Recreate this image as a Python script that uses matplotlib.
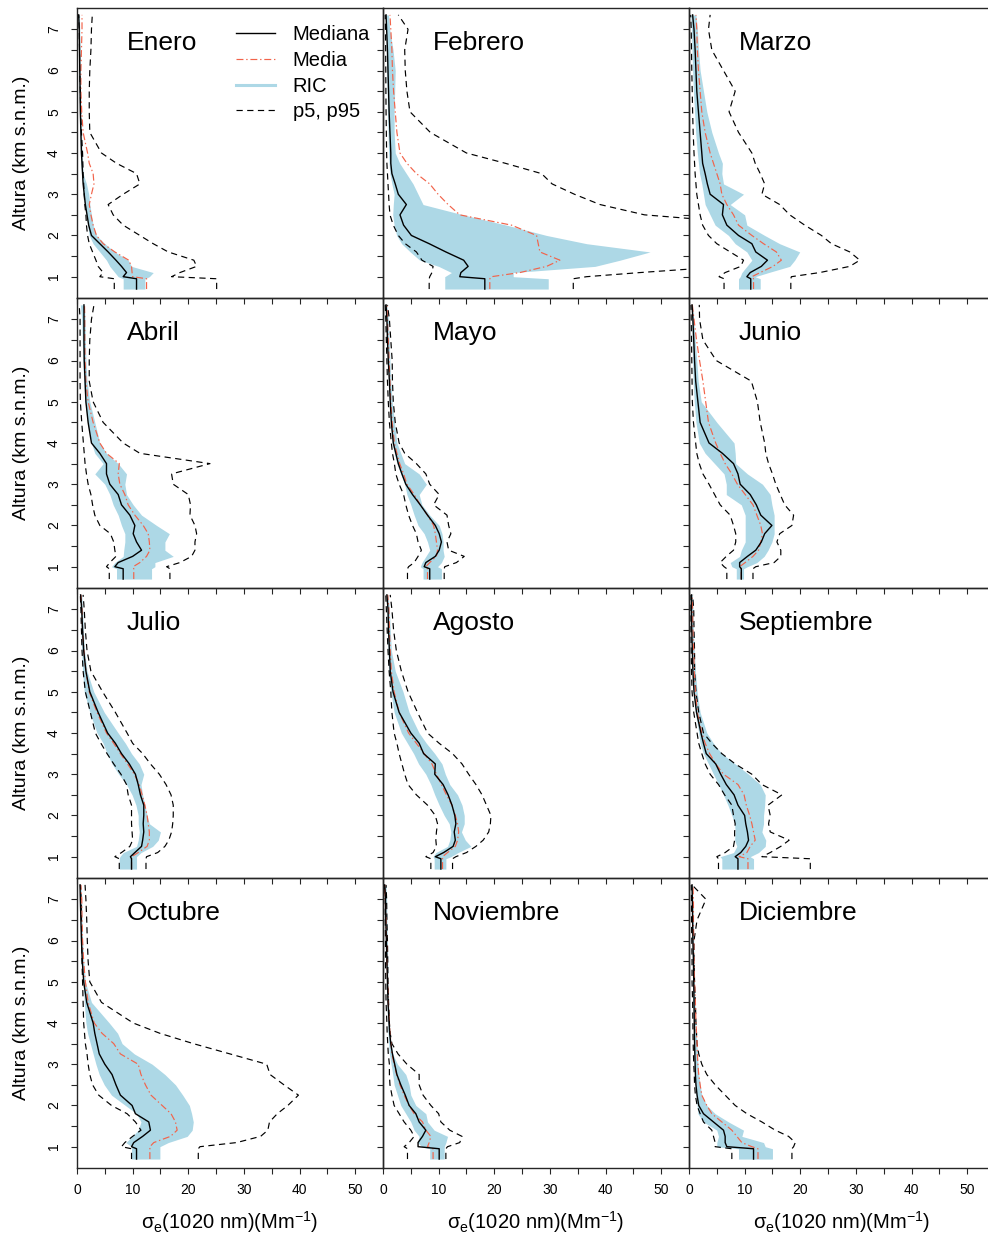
import numpy as np
import matplotlib
matplotlib.use('Agg')
import matplotlib.pyplot as plt
from matplotlib.lines import Line2D

plt.rcParams['font.family'] = ['Liberation Sans', 'DejaVu Sans']
plt.rcParams['mathtext.fontset'] = 'custom'
plt.rcParams['mathtext.rm'] = 'Liberation Sans'
plt.rcParams['mathtext.default'] = 'regular'
plt.rcParams['lines.scale_dashes'] = False

meses = ['Enero', 'Febrero', 'Marzo', 'Abril', 'Mayo', 'Junio',
         'Julio', 'Agosto', 'Septiembre', 'Octubre', 'Noviembre', 'Diciembre']

# altitud (km s.n.m.) de cada nivel del perfil
alt = [0.7, 0.95, 1.0, 1.1, 1.25, 1.4, 1.6, 1.8, 2.0, 2.25, 2.5, 2.75,
       3.0, 3.25, 3.5, 3.75, 4.0, 4.5, 5.0, 5.5, 6.0, 6.5, 7.0, 7.35]

mediana = {
    'Enero': [10.7, 10.7, 8.3, 8.9, 8.0, 7.0, 5.6, 4.1, 2.6, 2.1, 1.8, 1.5, 1.3, 1.1, 1.0, 0.9, 0.8, 0.7, 0.6, 0.55, 0.5, 0.45, 0.4, 0.3],
    'Febrero': [18.3, 18.3, 13.8, 14.0, 15.3, 14.5, 11.3, 8.3, 5.1, 3.7, 3.05, 4.2, 2.75, 2.2, 1.6, 1.4, 1.4, 1.25, 1.1, 1.0, 0.9, 0.8, 0.65, 0.55],
    'Marzo': [11.1, 11.1, 10.4, 11.0, 13.0, 14.1, 12.0, 11.3, 8.9, 6.8, 6.0, 6.2, 3.8, 3.3, 2.9, 2.45, 2.3, 2.0, 1.7, 1.4, 1.25, 1.1, 0.9, 0.65],
    'Abril': [8.3, 8.3, 6.8, 7.4, 10.0, 11.6, 10.7, 10.1, 10.4, 9.5, 8.0, 7.4, 5.9, 5.3, 5.3, 4.1, 2.6, 2.0, 1.6, 1.45, 1.3, 1.25, 1.25, 1.25],
    'Mayo': [8.4, 8.4, 7.4, 7.7, 9.4, 10.1, 10.5, 10.1, 9.4, 8.0, 6.7, 5.3, 4.1, 3.4, 2.75, 2.3, 1.85, 1.5, 1.3, 1.15, 0.95, 0.8, 0.7, 0.55],
    'Junio': [9.4, 9.4, 9.1, 9.1, 10.5, 12.0, 13.0, 13.6, 14.9, 12.9, 12.1, 11.0, 9.2, 8.8, 8.0, 6.0, 3.6, 2.0, 1.6, 1.2, 1.0, 0.85, 0.7, 0.55],
    'Julio': [9.8, 9.8, 9.6, 10.4, 11.6, 11.8, 12.0, 11.9, 12.0, 12.0, 11.4, 11.0, 10.5, 9.4, 8.0, 6.9, 5.5, 3.8, 2.3, 1.6, 1.2, 1.0, 0.85, 0.65],
    'Agosto': [10.4, 10.4, 9.4, 10.9, 12.6, 13.0, 12.8, 13.1, 12.9, 12.4, 11.7, 10.8, 9.3, 9.4, 7.3, 6.5, 5.0, 2.9, 1.8, 1.3, 1.15, 1.0, 0.9, 0.7],
    'Septiembre': [8.8, 8.8, 8.3, 9.3, 10.2, 10.7, 10.5, 10.2, 10.0, 8.8, 8.1, 6.7, 5.7, 4.8, 3.1, 2.6, 2.15, 1.35, 0.9, 0.7, 0.6, 0.5, 0.45, 0.45],
    'Octubre': [10.7, 10.7, 9.8, 10.2, 11.8, 13.2, 12.9, 10.5, 9.9, 7.8, 7.0, 6.3, 5.0, 4.0, 3.6, 3.2, 2.9, 1.75, 1.2, 0.95, 0.8, 0.7, 0.6, 0.55],
    'Noviembre': [10.1, 10.1, 6.3, 6.3, 7.1, 7.7, 6.5, 5.9, 4.7, 4.0, 3.2, 2.5, 2.1, 1.7, 1.4, 1.2, 1.1, 0.9, 0.8, 0.7, 0.6, 0.5, 0.45, 0.3],
    'Diciembre': [11.6, 11.6, 6.8, 6.5, 6.5, 6.2, 4.4, 2.6, 1.75, 1.45, 1.25, 1.15, 1.1, 1.05, 1.0, 0.97, 0.95, 0.9, 0.85, 0.8, 0.7, 0.65, 0.6, 0.55],
}

media = {
    'Enero': [12.5, 12.5, 10.0, 9.9, 9.8, 9.3, 6.8, 4.7, 3.5, 2.9, 2.5, 2.2, 2.6, 3.05, 2.9, 2.2, 1.9, 1.1, 0.85, 0.7, 0.7, 0.8, 0.9, 0.9],
    'Febrero': [19.2, 19.2, 19.5, 24.6, 29.4, 31.8, 28.2, 27.9, 27.6, 23.1, 13.8, 11.7, 9.9, 8.4, 6.0, 4.3, 3.05, 2.5, 2.2, 1.9, 1.7, 1.6, 1.4, 1.25],
    'Marzo': [11.6, 11.6, 11.3, 12.8, 15.1, 16.6, 15.7, 13.4, 11.3, 8.9, 8.0, 6.8, 5.9, 5.6, 5.0, 4.4, 3.8, 2.9, 2.3, 2.0, 1.7, 1.5, 1.4, 1.25],
    'Abril': [10.2, 10.2, 10.1, 11.3, 12.5, 13.1, 13.0, 12.8, 11.9, 10.4, 9.2, 8.6, 7.7, 7.4, 7.6, 5.3, 4.1, 2.9, 2.0, 1.6, 1.45, 1.4, 1.4, 1.35],
    'Mayo': [8.0, 8.0, 7.7, 8.4, 9.6, 9.8, 9.6, 9.4, 9.1, 8.0, 6.7, 5.6, 4.3, 3.7, 3.0, 2.5, 2.05, 1.65, 1.4, 1.25, 1.1, 0.95, 0.8, 0.7],
    'Junio': [9.4, 9.4, 9.1, 10.1, 11.5, 12.5, 12.9, 13.2, 12.9, 12.2, 11.5, 10.1, 8.7, 7.7, 6.5, 5.6, 4.8, 3.5, 3.0, 2.5, 1.9, 1.35, 0.9, 0.6],
    'Julio': [9.8, 9.8, 9.8, 11.0, 12.6, 13.0, 13.0, 12.8, 12.6, 12.2, 11.7, 11.2, 10.3, 9.1, 7.8, 6.6, 5.3, 3.6, 2.2, 1.6, 1.25, 1.0, 0.9, 0.7],
    'Agosto': [10.7, 10.7, 10.7, 11.6, 13.0, 13.4, 13.6, 13.4, 13.0, 12.4, 11.4, 10.5, 9.6, 8.8, 7.4, 6.0, 4.6, 2.9, 2.0, 1.5, 1.3, 1.15, 1.05, 0.85],
    'Septiembre': [10.6, 10.6, 9.0, 10.4, 11.0, 11.9, 11.6, 11.3, 10.9, 10.3, 9.9, 8.8, 6.2, 4.8, 3.7, 2.9, 2.3, 1.5, 1.15, 0.95, 0.85, 0.7, 0.65, 0.55],
    'Octubre': [13.1, 13.1, 13.1, 13.8, 16.8, 18.0, 17.7, 16.9, 15.3, 13.3, 12.3, 11.5, 11.0, 7.8, 6.6, 4.5, 3.1, 2.0, 1.5, 1.2, 1.0, 0.9, 0.85, 0.7],
    'Noviembre': [9.0, 9.0, 8.0, 8.3, 8.6, 7.7, 7.1, 5.6, 4.7, 3.8, 3.05, 2.45, 2.0, 1.6, 1.45, 1.25, 1.15, 0.95, 0.85, 0.7, 0.65, 0.55, 0.4, 0.35],
    'Diciembre': [12.4, 12.4, 11.3, 9.5, 8.6, 7.7, 5.9, 4.1, 3.2, 2.3, 2.0, 1.75, 1.6, 1.5, 1.45, 1.35, 1.25, 1.15, 1.0, 0.9, 0.85, 0.8, 0.8, 0.7],
}

q25 = {
    'Enero': [8.3, 8.3, 7.4, 6.8, 5.9, 5.3, 4.1, 2.9, 2.2, 1.9, 1.7, 1.4, 1.1, 1.0, 0.8, 0.7, 0.6, 0.5, 0.45, 0.4, 0.35, 0.3, 0.3, 0.25],
    'Febrero': [11.1, 11.1, 11.1, 12.3, 10.0, 6.6, 4.9, 3.35, 2.45, 2.0, 1.75, 1.85, 2.0, 1.6, 1.25, 1.1, 1.0, 0.9, 0.8, 0.75, 0.65, 0.6, 0.55, 0.45],
    'Marzo': [8.9, 8.9, 9.2, 9.5, 10.4, 11.3, 10.4, 8.3, 7.1, 4.7, 3.8, 2.9, 2.6, 2.3, 1.9, 1.7, 1.5, 1.2, 1.0, 0.8, 0.65, 0.55, 0.45, 0.3],
    'Abril': [7.1, 7.1, 6.2, 6.8, 8.3, 8.4, 8.6, 8.6, 8.0, 7.4, 6.5, 5.9, 5.0, 3.2, 4.7, 3.2, 2.6, 1.9, 1.45, 1.2, 1.05, 0.95, 0.85, 0.6],
    'Mayo': [7.2, 7.2, 6.7, 7.0, 7.7, 8.4, 8.0, 7.4, 6.3, 5.6, 5.0, 4.3, 3.9, 3.2, 2.5, 2.05, 1.65, 1.4, 1.15, 1.0, 0.85, 0.7, 0.6, 0.45],
    'Junio': [8.5, 8.5, 7.7, 7.4, 9.1, 9.4, 10.1, 10.1, 10.1, 10.1, 9.4, 6.7, 6.7, 6.3, 4.6, 2.9, 1.85, 1.25, 0.95, 0.75, 0.65, 0.55, 0.5, 0.4],
    'Julio': [7.6, 7.6, 7.7, 8.3, 10.7, 11.0, 11.2, 11.0, 11.0, 10.6, 9.9, 8.9, 7.5, 6.3, 5.4, 4.7, 3.6, 2.3, 1.3, 1.0, 0.85, 0.7, 0.65, 0.55],
    'Agosto': [9.2, 9.2, 9.0, 9.5, 11.6, 12.0, 12.2, 11.9, 11.0, 10.1, 9.3, 8.6, 7.7, 6.4, 5.5, 4.4, 3.3, 2.0, 1.4, 1.0, 0.9, 0.8, 0.7, 0.65],
    'Septiembre': [5.9, 5.9, 5.6, 8.0, 8.6, 8.2, 8.3, 8.2, 7.7, 7.0, 6.2, 5.3, 4.4, 3.5, 2.6, 2.0, 1.75, 1.15, 0.85, 0.65, 0.55, 0.5, 0.45, 0.4],
    'Octubre': [9.8, 9.8, 9.8, 8.8, 9.9, 11.0, 11.5, 10.7, 8.7, 6.2, 4.9, 4.0, 3.4, 2.9, 2.4, 1.9, 1.6, 1.3, 1.1, 0.9, 0.8, 0.7, 0.65, 0.6],
    'Noviembre': [8.4, 8.4, 7.0, 6.2, 6.5, 5.6, 5.0, 4.1, 3.2, 2.6, 2.0, 1.75, 1.45, 1.15, 1.0, 0.9, 0.85, 0.7, 0.65, 0.6, 0.55, 0.5, 0.4, 0.35],
    'Diciembre': [8.9, 8.9, 5.0, 5.0, 5.3, 5.0, 2.6, 1.6, 1.45, 1.25, 1.15, 1.0, 0.95, 0.9, 0.85, 0.8, 0.8, 0.7, 0.65, 0.6, 0.55, 0.5, 0.4, 0.35],
}

q75 = {
    'Enero': [12.2, 12.2, 13.0, 13.7, 9.8, 9.2, 6.8, 5.0, 3.5, 2.9, 2.6, 2.3, 2.1, 1.7, 1.1, 1.0, 0.9, 0.8, 0.7, 0.65, 0.6, 0.55, 0.5, 0.4],
    'Febrero': [29.7, 29.7, 23.4, 23.4, 38.1, 42.6, 48.0, 36.6, 29.4, 22.2, 14.4, 7.2, 6.3, 5.4, 4.2, 3.0, 2.2, 2.0, 2.0, 2.1, 2.2, 1.8, 1.2, 1.0],
    'Marzo': [12.8, 12.8, 11.9, 14.3, 18.1, 19.0, 19.9, 16.3, 13.6, 10.4, 10.0, 7.4, 9.8, 6.2, 5.9, 6.0, 5.3, 4.1, 3.2, 2.6, 2.0, 1.7, 1.5, 1.25],
    'Abril': [13.4, 13.4, 14.0, 14.0, 17.3, 15.8, 15.8, 16.6, 14.3, 11.6, 10.1, 8.9, 8.6, 8.9, 7.4, 5.3, 4.1, 3.2, 2.3, 1.8, 1.6, 1.5, 1.45, 1.3],
    'Mayo': [10.5, 10.5, 9.8, 10.5, 11.0, 10.8, 10.8, 10.6, 10.1, 8.4, 7.0, 6.5, 7.8, 6.5, 3.9, 3.2, 2.5, 2.05, 1.65, 1.4, 1.25, 1.1, 0.95, 0.7],
    'Junio': [9.8, 9.8, 10.5, 12.2, 13.5, 14.2, 14.9, 15.3, 15.3, 15.3, 14.9, 14.6, 13.2, 10.5, 8.4, 8.3, 8.1, 5.0, 2.2, 1.65, 1.4, 1.1, 0.85, 0.6],
    'Julio': [10.7, 10.7, 10.7, 11.5, 13.6, 14.6, 15.0, 13.0, 12.6, 12.2, 11.8, 11.5, 12.0, 11.2, 9.8, 8.7, 7.4, 4.9, 3.0, 1.8, 1.35, 1.15, 1.0, 0.85],
    'Agosto': [11.3, 11.3, 12.2, 13.5, 15.8, 14.8, 14.1, 14.6, 14.6, 14.2, 13.4, 12.0, 11.2, 10.6, 9.3, 7.8, 6.5, 4.7, 3.6, 2.2, 1.5, 1.3, 1.15, 0.9],
    'Septiembre': [11.6, 11.6, 11.0, 12.5, 13.7, 13.8, 13.1, 13.4, 13.4, 13.6, 13.7, 12.8, 10.7, 8.3, 5.9, 4.4, 3.2, 2.0, 1.45, 1.15, 0.95, 0.8, 0.7, 0.6],
    'Octubre': [14.9, 14.9, 14.9, 16.4, 19.8, 20.7, 20.9, 20.6, 20.2, 19.0, 17.7, 15.8, 13.5, 10.3, 8.1, 7.3, 5.8, 2.6, 1.5, 1.2, 1.0, 0.9, 0.85, 0.75],
    'Noviembre': [11.0, 11.0, 11.0, 11.3, 11.6, 9.2, 8.0, 7.7, 5.9, 5.0, 4.7, 4.1, 2.6, 1.75, 1.45, 1.25, 1.15, 1.0, 0.9, 0.85, 0.8, 0.7, 0.65, 0.55],
    'Diciembre': [15.0, 15.0, 13.7, 13.4, 9.5, 9.8, 7.1, 4.7, 3.2, 2.3, 2.0, 1.75, 1.6, 1.5, 1.4, 1.3, 1.2, 1.1, 0.95, 0.9, 0.85, 0.8, 0.7, 0.6],
}

p5 = {
    'Enero': [6.7, 6.7, 4.1, 4.7, 3.8, 3.4, 2.8, 2.2, 1.9, 1.7, 1.6, 1.4, 1.3, 1.2, 1.1, 1.05, 1.0, 0.8, 0.66, 0.6, 0.5, 0.45, 0.4, 0.3],
    'Febrero': [8.3, 8.3, 8.4, 8.8, 9.0, 7.0, 6.0, 4.0, 2.75, 1.85, 1.25, 1.1, 1.0, 0.9, 0.8, 0.7, 0.65, 0.6, 0.55, 0.52, 0.5, 0.48, 0.45, 0.4],
    'Marzo': [6.3, 6.3, 5.4, 6.5, 9.3, 9.8, 7.4, 5.0, 3.5, 2.45, 2.0, 1.7, 1.4, 1.25, 1.1, 1.0, 0.9, 0.75, 0.65, 0.58, 0.5, 0.45, 0.4, 0.3],
    'Abril': [5.8, 5.8, 5.3, 5.9, 7.0, 6.8, 6.6, 6.0, 4.1, 3.2, 2.8, 2.5, 2.0, 1.7, 1.45, 1.3, 1.15, 0.85, 0.6, 0.55, 0.55, 0.55, 0.55, 0.4],
    'Mayo': [4.4, 4.4, 4.6, 5.6, 6.3, 6.9, 6.3, 6.0, 5.3, 4.6, 4.1, 3.7, 2.9, 2.3, 2.05, 1.7, 1.5, 1.15, 0.95, 0.8, 0.7, 0.6, 0.5, 0.4],
    'Junio': [6.8, 6.8, 6.3, 5.6, 6.7, 8.0, 8.4, 8.4, 8.0, 7.4, 5.6, 4.6, 3.6, 2.5, 1.85, 1.4, 1.2, 0.8, 0.6, 0.55, 0.5, 0.45, 0.4, 0.35],
    'Julio': [7.6, 7.6, 6.8, 8.0, 9.5, 10.0, 9.9, 9.8, 9.8, 9.8, 9.2, 8.9, 7.9, 6.6, 5.4, 4.3, 3.3, 2.4, 1.5, 1.1, 0.9, 0.8, 0.7, 0.6],
    'Agosto': [8.6, 8.6, 7.7, 9.0, 9.6, 9.5, 9.6, 9.8, 9.4, 8.0, 6.0, 4.5, 3.9, 3.4, 2.9, 2.5, 2.0, 1.6, 1.4, 1.1, 0.9, 0.75, 0.6, 0.5],
    'Septiembre': [5.3, 5.3, 5.0, 6.5, 8.0, 8.2, 8.2, 8.3, 8.0, 7.7, 6.4, 5.3, 3.8, 2.9, 2.3, 1.75, 1.45, 0.85, 0.55, 0.45, 0.4, 0.35, 0.35, 0.35],
    'Octubre': [9.8, 9.8, 8.0, 8.6, 10.0, 11.5, 10.5, 9.0, 6.2, 3.9, 2.8, 2.3, 2.0, 1.8, 1.5, 1.35, 1.2, 1.1, 1.0, 0.9, 0.85, 0.8, 0.75, 0.6],
    'Noviembre': [4.4, 4.4, 3.8, 4.7, 5.6, 5.0, 3.8, 2.9, 2.0, 1.6, 1.25, 1.15, 1.15, 0.95, 0.85, 0.75, 0.7, 0.55, 0.5, 0.45, 0.45, 0.4, 0.4, 0.3],
    'Diciembre': [7.7, 7.7, 4.7, 4.7, 4.4, 4.1, 2.6, 2.0, 1.45, 1.15, 1.0, 0.95, 0.85, 0.8, 0.75, 0.72, 0.7, 0.65, 0.55, 0.55, 0.5, 0.45, 0.45, 0.4],
}

p95 = {
    'Enero': [25.1, 25.1, 17.0, 18.5, 21.5, 21.0, 16.4, 13.7, 11.3, 8.3, 6.5, 5.6, 8.3, 11.3, 10.7, 7.1, 4.4, 2.3, 2.2, 2.2, 2.3, 2.5, 2.6, 2.75],
    'Febrero': [34.2, 34.2, 36.6, 46.2, 62.0, 66.0, 66.0, 64.0, 62.0, 70.0, 47.0, 39.0, 34.4, 30.4, 28.5, 22.0, 15.0, 8.5, 4.85, 4.3, 4.0, 3.9, 4.5, 2.75],
    'Marzo': [18.3, 18.3, 18.4, 23.5, 28.9, 30.7, 28.9, 25.6, 23.8, 20.8, 18.1, 16.3, 13.1, 13.6, 12.8, 11.9, 11.3, 8.9, 7.2, 8.3, 6.2, 4.1, 3.5, 3.8],
    'Abril': [16.7, 16.7, 16.1, 18.5, 20.6, 21.2, 21.2, 21.5, 21.2, 20.3, 20.4, 20.0, 17.3, 17.0, 23.9, 11.3, 8.3, 4.7, 2.9, 2.2, 2.2, 2.3, 2.6, 3.05],
    'Mayo': [11.0, 11.0, 11.1, 13.2, 14.6, 11.8, 11.5, 12.2, 11.8, 11.5, 9.1, 10.1, 8.4, 7.7, 6.0, 3.9, 2.9, 2.2, 1.85, 1.7, 1.65, 1.4, 1.15, 0.8],
    'Junio': [11.5, 11.5, 12.0, 15.3, 16.5, 16.5, 15.8, 16.3, 18.5, 18.8, 17.2, 16.4, 15.6, 15.0, 14.3, 13.8, 13.6, 12.8, 12.3, 11.2, 4.9, 2.5, 1.9, 1.85],
    'Julio': [12.4, 12.4, 12.5, 14.5, 15.8, 16.5, 17.0, 17.2, 17.3, 17.3, 16.9, 16.0, 14.8, 13.2, 11.8, 10.0, 9.0, 6.9, 4.6, 2.5, 1.8, 1.5, 1.3, 1.1],
    'Agosto': [12.5, 12.5, 13.1, 15.0, 16.7, 18.0, 19.0, 19.3, 19.4, 18.6, 17.8, 16.7, 15.4, 14.2, 12.5, 10.1, 8.0, 6.2, 4.5, 3.3, 2.4, 1.9, 1.6, 1.3],
    'Septiembre': [21.8, 21.8, 13.1, 14.6, 16.5, 18.0, 14.6, 14.3, 14.6, 14.2, 16.7, 13.1, 11.3, 8.3, 5.9, 4.1, 2.6, 1.75, 1.25, 1.0, 1.0, 0.9, 0.85, 0.65],
    'Octubre': [21.8, 21.8, 22.1, 28.7, 33.0, 34.3, 34.6, 36.0, 37.9, 39.8, 37.2, 34.7, 34.1, 27.5, 20.9, 14.9, 10.1, 4.4, 2.3, 2.0, 1.85, 1.75, 1.6, 1.45],
    'Noviembre': [11.3, 11.3, 11.6, 13.8, 14.2, 12.0, 10.4, 10.0, 8.6, 7.2, 6.5, 6.5, 4.3, 2.7, 1.6, 1.3, 1.15, 1.0, 0.9, 0.85, 0.8, 0.7, 0.65, 0.55],
    'Diciembre': [18.5, 18.5, 18.8, 19.1, 17.9, 15.5, 13.1, 10.4, 8.3, 6.5, 4.7, 3.2, 2.3, 1.75, 1.45, 1.35, 1.25, 1.15, 1.0, 0.9, 0.9, 1.45, 3.05, 0.55],
}

AZUL = '#ADD8E6'
ROJO = '#F2634A'
GRIS = '#262626'
DASH_P = (4.5, 3.2)
DASH_M = (5.0, 2.0, 1.0, 2.0)

W, H = 988, 1237
fig = plt.figure(figsize=(W / 100, H / 100), dpi=100)

for i, mes in enumerate(meses):
    r, c = divmod(i, 3)
    ax = fig.add_axes([(77 + 306 * c) / W, (H - 8 - 290 * (r + 1)) / H, 306 / W, 290 / H])
    ax.set_facecolor('none')

    ax.fill_betweenx(alt, q25[mes], q75[mes], color=AZUL, lw=0, zorder=1)
    ax.plot(p5[mes], alt, color='k', lw=0.85, dashes=DASH_P, zorder=2)
    ax.plot(p95[mes], alt, color='k', lw=0.85, dashes=DASH_P, zorder=2)
    ax.plot(media[mes], alt, color=ROJO, lw=0.85, dashes=DASH_M, zorder=3)
    ax.plot(mediana[mes], alt, color='k', lw=1.0, zorder=4)

    ax.set_xlim(0, 55)
    ax.set_ylim(0.483, 7.517)
    ax.set_xticks(range(0, 51, 10))
    ax.set_xticks(range(5, 50, 10), minor=True)
    ax.set_yticks(range(1, 8))
    ax.set_yticks(np.arange(1.5, 7, 1.0), minor=True)
    ax.tick_params(which='both', direction='out', length=4.5, width=0.8,
                   color=GRIS, labelsize=10, pad=6)
    for s in ax.spines.values():
        s.set_color(GRIS)
        s.set_linewidth(1.0)
    if c == 2:
        ax.spines['right'].set_visible(False)

    if c == 0:
        ax.tick_params(axis='y', labelrotation=90, pad=7)
        for lab in ax.get_yticklabels():
            lab.set_va('center')
        ax.set_ylabel('Altura (km s.n.m.)', fontsize=14, labelpad=12)
    else:
        ax.tick_params(labelleft=False)

    if r == 3:
        ax.set_xlabel('σ$_e$(1020 nm)(Mm$^{-1}$)', fontsize=14.5, labelpad=9)
    else:
        ax.tick_params(labelbottom=False)

    ax.text(0.163, 0.879, mes, transform=ax.transAxes, fontsize=19,
            ha='left', va='center')

    if i == 0:
        handles = [Line2D([], [], color='k', lw=1.0),
                   Line2D([], [], color=ROJO, lw=0.85, dashes=DASH_M),
                   Line2D([], [], color=AZUL, lw=2.2),
                   Line2D([], [], color='k', lw=0.85, dashes=DASH_P)]
        ax.legend(handles, ['Mediana', 'Media', 'RIC', 'p5, p95'],
                  loc='upper left', bbox_to_anchor=(0.52, 0.94),
                  frameon=False, fontsize=14.5, handlelength=1.95,
                  handletextpad=0.85, labelspacing=0.33,
                  borderpad=0, borderaxespad=0)

fig.savefig('out.png', dpi=100)
